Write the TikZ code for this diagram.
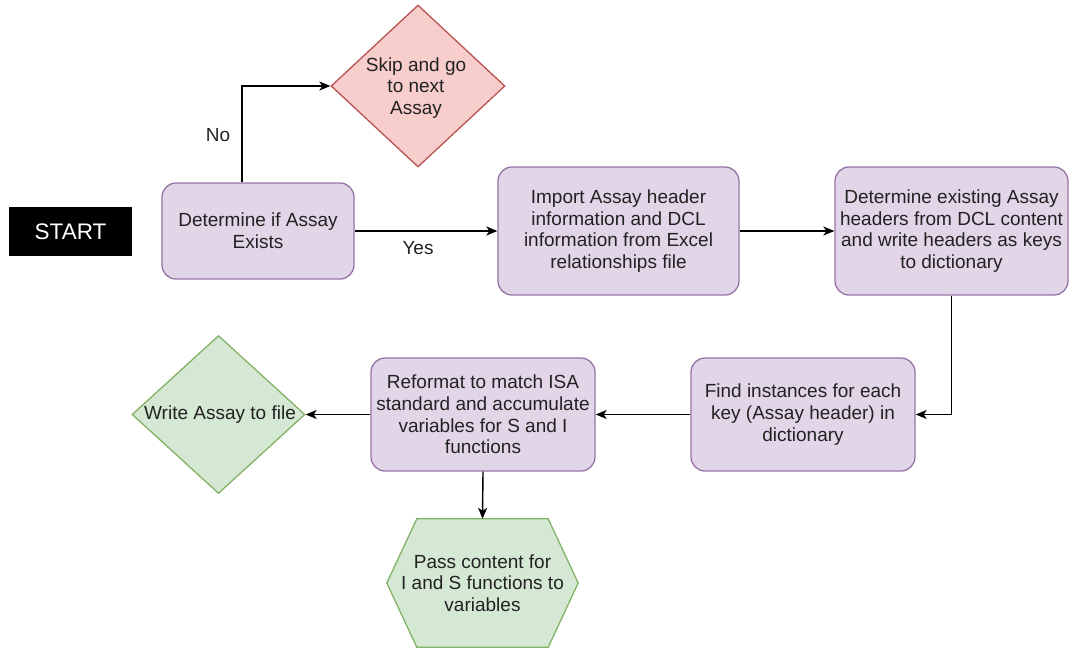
\documentclass[tikz,border=0pt]{standalone}
\usepackage{fontspec}
\setmainfont{Liberation Sans}
\usetikzlibrary{shapes.geometric,arrows.meta,backgrounds,calc}

\definecolor{procfill}{HTML}{E1D5E7}
\definecolor{procline}{HTML}{9673A6}
\definecolor{skipfill}{HTML}{F8CECC}
\definecolor{skipline}{HTML}{B85450}
\definecolor{okfill}{HTML}{D5E8D4}
\definecolor{okline}{HTML}{82B366}
\definecolor{txt}{HTML}{222222}

\tikzset{
  base/.style={font=\fontsize{19}{21.7}\selectfont, text=txt, align=center, inner sep=0pt},
  procbox/.style={base, rectangle, rounded corners=14pt, draw=procline, fill=procfill, line width=1.3pt},
  skipshape/.style={diamond, draw=skipline, fill=skipfill, line width=1.3pt, inner sep=0pt, aspect=1},
  okshape/.style={diamond, draw=okline, fill=okfill, line width=1.3pt, inner sep=0pt, aspect=1},
  startbox/.style={rectangle, fill=black, text=white, font=\fontsize{22.5}{25}\selectfont, inner sep=0pt},
  flow/.style={draw=black, line width=1.4pt, -{Stealth[length=11pt,width=9pt,inset=3pt]}},
  lbl/.style={font=\fontsize{19}{21.7}\selectfont, text=txt, inner sep=0pt}
}

\begin{document}
\begin{tikzpicture}[x=1pt, y=-1pt]
  \useasboundingbox (0,0) rectangle (1070,649);

  % start marker
  \node[startbox, minimum width=123pt, minimum height=49pt] (start) at (70.5,231.5) {START};

  % process steps
  \node[procbox, minimum width=192pt, minimum height=96pt] (det) at (258,231)
    {Determine if Assay\\Exists};
  \node[procbox, minimum width=241pt, minimum height=128pt] (imp) at (618.5,231)
    {Import Assay header\\information and DCL\\information from Excel\\relationships file};
  \node[procbox, minimum width=233pt, minimum height=128pt] (dex) at (951.5,231)
    {Determine existing Assay\\headers from DCL content\\and write headers as keys\\to dictionary};
  \node[procbox, minimum width=224pt, minimum height=113pt] (find) at (803,414.5)
    {Find instances for each\\key (Assay header) in\\dictionary};
  \node[procbox, minimum width=224pt, minimum height=113pt] (ref) at (483,414.5)
    {Reformat to match ISA\\standard and accumulate\\variables for S and I\\functions};

  % skip decision
  \node[skipshape, minimum width=174pt, minimum height=162pt] (skip) at (418,86) {};
  \node[base] (skiptxt) at (416,88) {Skip and go\\to next\\Assay};

  % write output
  \node[okshape, minimum width=173pt, minimum height=158pt] (write) at (218.5,414.5) {};
  \node[base] (writetxt) at (220,414.5) {Write Assay to file};

  % pass content hexagon
  \node[base, minimum width=191pt, minimum height=128pt] (pass) at (482.5,583)
    {Pass content for\\I and S functions to\\variables};
  \begin{scope}[on background layer]
    \draw[draw=okline, fill=okfill, line width=1.3pt]
      (pass.west) -- ($(pass.north west)+(30,0)$) -- ($(pass.north east)+(-30,0)$)
      -- (pass.east) -- ($(pass.south east)+(-30,0)$) -- ($(pass.south west)+(30,0)$) -- cycle;
  \end{scope}

  % connectors
  \coordinate (nobend) at (242,86);
  \draw[flow] (det.north -| nobend) -- (nobend) -- (skip.west);
  \node[lbl] (nolbl) at (218,135) {No};

  \draw[flow] (det.east) -- (imp.west);
  \node[lbl] (yeslbl) at (418,248) {Yes};

  \draw[flow] (imp.east) -- (dex.west);
  \draw[flow] (dex.south) |- (find.east);
  \draw[flow] (find.west) -- (ref.east);
  \draw[flow] (ref.west) -- (write.east);
  \draw[flow] (ref.south) -- (pass.north);
\end{tikzpicture}
\end{document}
